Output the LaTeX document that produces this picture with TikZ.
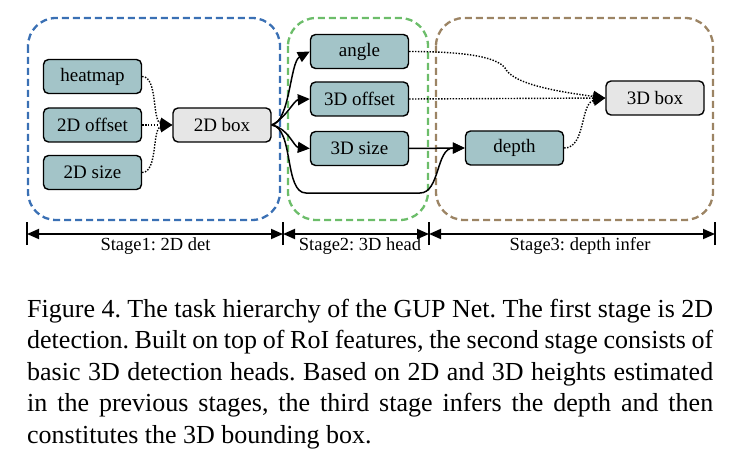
\documentclass[tikz,border=0pt]{standalone}
\usepackage{fontspec}
\setmainfont{Liberation Serif}
\frenchspacing
\usetikzlibrary{arrows.meta}
\definecolor{nodefill}{RGB}{163,196,200}
\definecolor{boxgray}{RGB}{230,230,230}
\definecolor{stageblue}{RGB}{58,112,180}
\definecolor{stagegreen}{RGB}{108,189,106}
\definecolor{stagebrown}{RGB}{156,132,100}
\tikzset{
  task/.style={draw, line width=1.4pt, rounded corners=5pt, minimum width=98pt,
    minimum height=34pt, fill=nodefill, inner sep=0pt, font=\fontsize{19}{22}\selectfont},
  result/.style={task, fill=boxgray},
  frame/.style={line width=2.3pt, dash pattern=on 7pt off 4pt, rounded corners=28pt},
  arr/.style={-{Triangle[length=12pt,width=11pt]}},
  dotline/.style={line width=1.4pt, dash pattern=on 1.4pt off 1.5pt, arr},
  solidline/.style={line width=1.5pt, arr},
  dimline/.style={line width=1.8pt, {Triangle[length=12pt,width=10pt]}-{Triangle[length=12pt,width=10pt]}},
  tick/.style={line width=1.4pt},
  stagelabel/.style={anchor=base, inner sep=0pt, font=\fontsize{18.5}{21}\selectfont}
}
\begin{document}
\begin{tikzpicture}[x=1pt,y=-1pt]
\useasboundingbox (0,0) rectangle (730,457);
% frames
\draw[frame, stageblue] (28,18) rectangle (280,220);
\draw[frame, stagegreen] (288,18) rectangle (428,220);
\draw[frame, stagebrown] (436,18) rectangle (713,220);
% nodes
\node[task] (heat) at (92.5,76.5) {heatmap};
\node[task] (off2) at (92.5,125) {2D offset};
\node[task] (size2) at (92.5,172.5) {2D size};
\node[result] (b2d) at (222,125) {2D box};
\node[task] (angle) at (359.5,51.5) {angle};
\node[task] (off3) at (359.5,99) {3D offset};
\node[task] (size3) at (359.5,148.5) {3D size};
\node[task] (depth) at (514.5,148) {depth};
\node[result] (b3d) at (655,98) {3D box};
% stage 1 connectors
\draw[dotline] (heat.east) .. controls (158,76.5) and (152,122) .. (b2d.west);
\draw[dotline] (off2.east) -- (b2d.west);
\draw[dotline] (size2.east) .. controls (158,172.5) and (152,128) .. (b2d.west);
% stage 2 connectors
\draw[solidline] (b2d.east) .. controls (290,122) and (290,62) .. (angle.west);
\draw[solidline] (b2d.east) .. controls (286,118) and (294,100) .. (off3.west);
\draw[solidline] (b2d.east) .. controls (288,128) and (294,147) .. (size3.west);
\draw[solidline] (b2d.east) .. controls (294,128) and (284,193) .. (306,193) -- (420,193)
  .. controls (440,193) and (436,148) .. (depth.west);
\draw[solidline] (size3.east) -- (depth.west);
% stage 3 connectors
\draw[dotline] (angle.east) .. controls (460,51.5) and (496,56) .. (505,68)
  .. controls (512,82) and (545,90) .. (b3d.west);
\draw[dotline] (off3.east) -- (b3d.west);
\draw[dotline] (depth.east) .. controls (586,148) and (580,103) .. (b3d.west);
% dimension lines
\coordinate (t1) at (27,234);
\coordinate (t2) at (283,234);
\coordinate (t3) at (429,234);
\coordinate (t4) at (715,234);
\foreach \t in {t1,t2,t3,t4} \draw[tick] ([yshift=-11pt]\t) -- ([yshift=12pt]\t);
\draw[dimline] (t1) -- (t2);
\draw[dimline] (t2) -- (t3);
\draw[dimline] (t3) -- (t4);
\node[stagelabel] (s1) at (155.5,250) {Stage1: 2D det};
\node[stagelabel] (s2) at (360,250) {Stage2: 3D head};
\node[stagelabel] (s3) at (580,250) {Stage3: depth infer};
% caption
\node[anchor=base west, inner sep=0pt] (cap) at (27,317) {\parbox[t]{686pt}{\fontsize{26}{31.5}\selectfont\hyphenpenalty=10000\emergencystretch=3em
Figure 4. The task hierarchy of the GUP Net. The first stage is 2D\linebreak
detection. Built on top of RoI features, the second stage consists of\linebreak
basic 3D detection heads. Based on 2D and 3D heights estimated\linebreak
in the previous stages, the third stage infers the depth and then\linebreak
constitutes the 3D bounding box.}};
\end{tikzpicture}
\end{document}
